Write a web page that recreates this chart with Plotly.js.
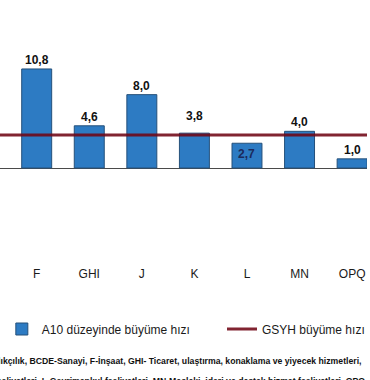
<!DOCTYPE html>
<html>
<head>
<meta charset="utf-8">
<script src="https://cdn.plot.ly/plotly-3.0.1.min.js"></script>
<style>
  html, body { margin: 0; padding: 0; background: #fff; }
  #chart { width: 370px; height: 380px; }
</style>
</head>
<body>
<div id="chart"></div>
<script>
// All A10 categories of the original chart (only F..OPQ fall inside this crop)
const allCategories = ['A', 'BCDE', 'F', 'GHI', 'J', 'K', 'L', 'MN', 'OPQ', 'RSTU'];
// Visible bars
const categories = ['F', 'GHI', 'J', 'K', 'L', 'MN', 'OPQ'];
const a10Growth = [10.8, 4.6, 8.0, 3.8, 2.7, 4.0, 1.0];
// GDP growth rate (constant reference line across all categories)
const gsyhGrowth = [3.6, 3.6, 3.6, 3.6, 3.6, 3.6, 3.6, 3.6, 3.6, 3.6];

const seriesNames = ['A10 düzeyinde büyüme hızı', 'GSYH büyüme hızı'];
const footnoteLine1 = 'A-Tarım, ormancılık ve balıkçılık, BCDE-Sanayi, F-İnşaat, GHI- Ticaret, ulaştırma, konaklama ve yiyecek hizmetleri,';
const footnoteLine2 = 'J-Bilgi ve iletişim, K-Finans ve sigorta faaliyetleri, L-Gayrimenkul faaliyetleri, MN-Mesleki, idari ve destek hizmet faaliyetleri, OPQ';

// label placement style per category (not data)
const labelStyle = {
  K: { yshift: 8 },
  L: { inside: true }
};

const fmt = v => v.toFixed(1).replace('.', ',');
const FONT = 'Liberation Sans, Arial, sans-serif';

const bars = {
  type: 'bar',
  name: seriesNames[0],
  x: categories,
  y: a10Growth,
  width: 0.57,
  marker: { color: '#2d7bc3', line: { color: '#25507a', width: 1 } },
  legend: 'legend',
  hoverinfo: 'skip'
};

const line = {
  type: 'scatter',
  mode: 'lines',
  name: seriesNames[1],
  x: allCategories,
  y: gsyhGrowth,
  line: { color: 'rgba(112,6,20,0.88)', width: 3 },
  legend: 'legend2',
  hoverinfo: 'skip'
};

const annotations = categories.map((c, i) => {
  const st = labelStyle[c] || {};
  if (st.inside) {
    return {
      x: c, y: a10Growth[i], xref: 'x', yref: 'y',
      text: fmt(a10Growth[i]), showarrow: false,
      yanchor: 'top', yshift: -2,
      font: { family: FONT, size: 12, color: '#1b2a5c', weight: 'bold' }
    };
  }
  return {
    x: c, y: a10Growth[i], xref: 'x', yref: 'y',
    text: fmt(a10Growth[i]), showarrow: false,
    yanchor: 'bottom', yshift: st.yshift || 0,
    font: { family: FONT, size: 12, color: '#111', weight: 'bold' }
  };
});

annotations.push({
  xref: 'paper', yref: 'paper', x: 0.993, y: -0.373,
  xanchor: 'right', yanchor: 'middle', showarrow: false,
  text: footnoteLine1,
  font: { family: FONT, size: 8.7, color: '#111', weight: 'bold' }
});
annotations.push({
  xref: 'paper', yref: 'paper', x: 1.0, y: -0.447,
  xanchor: 'right', yanchor: 'middle', showarrow: false,
  text: footnoteLine2,
  font: { family: FONT, size: 8.7, color: '#111', weight: 'bold' }
});

const legendCommon = {
  orientation: 'h',
  y: -0.251, yanchor: 'middle',
  xanchor: 'left',
  font: { family: FONT, size: 12, color: '#1a1a1a' },
  bgcolor: 'rgba(0,0,0,0)'
};

const layout = {
  width: 370, height: 380,
  margin: { l: 0, r: 0, t: 0, b: 117, pad: 0 },
  paper_bgcolor: '#fff', plot_bgcolor: '#fff',
  showlegend: true,
  font: { family: FONT, size: 12, color: '#1a1a1a' },
  xaxis: {
    type: 'category',
    categoryorder: 'array',
    categoryarray: allCategories,
    range: [1.302, 8.283],
    showgrid: false, zeroline: false, showline: false,
    ticks: '', ticklen: 0, ticklabelstandoff: 2,
    tickfont: { size: 12, color: '#1a1a1a' },
    fixedrange: true
  },
  yaxis: {
    range: [-10.36, 18.32],
    showgrid: false, showticklabels: false, ticks: '',
    zeroline: true, zerolinecolor: '#4a4a4a', zerolinewidth: 1,
    showline: false, fixedrange: true
  },
  legend: Object.assign({}, legendCommon, { x: 0.005 }),
  legend2: Object.assign({}, legendCommon, { x: 0.605 }),
  annotations: annotations
};

Plotly.newPlot('chart', [bars, line], layout, { displayModeBar: false, staticPlot: true });
</script>
</body>
</html>
